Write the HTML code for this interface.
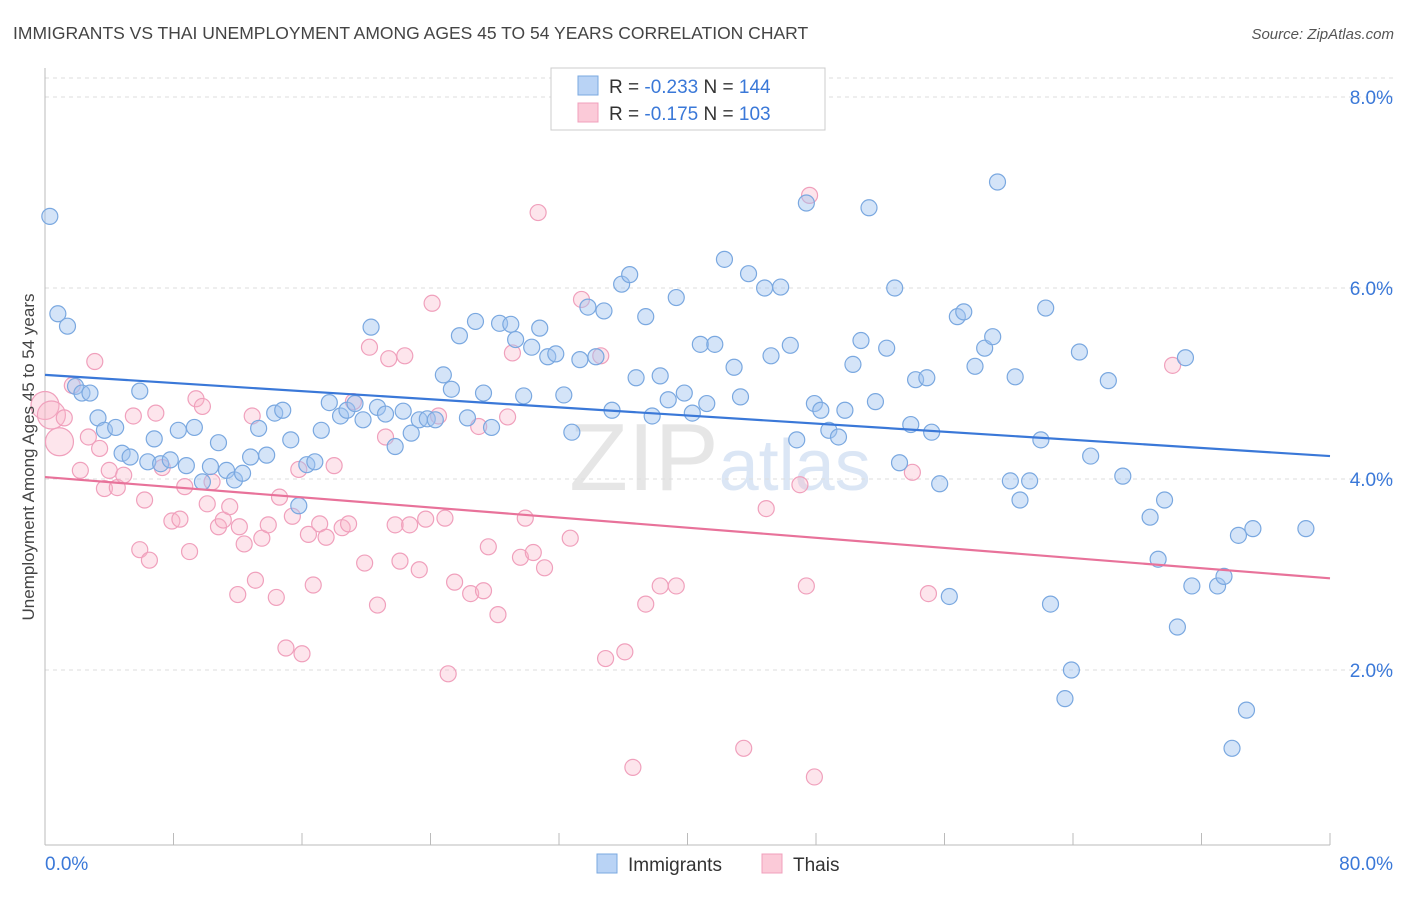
<!DOCTYPE html>
<html><head><meta charset="utf-8"><style>
body{margin:0;background:#fff;font-family:"Liberation Sans",sans-serif}
svg text{font-family:"Liberation Sans",sans-serif}
</style></head><body>
<svg id="chart" width="1406" height="892" viewBox="0 0 1406 892" xmlns="http://www.w3.org/2000/svg">
<text x="13" y="39" font-size="17.5" fill="#444">IMMIGRANTS VS THAI UNEMPLOYMENT AMONG AGES 45 TO 54 YEARS CORRELATION CHART</text>
<text x="1394" y="39" font-size="15" fill="#555" text-anchor="end" font-style="italic">Source: ZipAtlas.com</text>
<text x="720" y="490" font-size="96" fill="#e6e6e6" text-anchor="middle" font-family="Liberation Serif">ZIP<tspan fill="#dbe6f5" font-family="Liberation Sans" font-size="72">atlas</tspan></text>
<g id="grid"></g>
<g id="axes"></g>
<g id="pts"></g>
<g id="trend"></g>
<text transform="translate(34,457) rotate(-90)" font-size="17" fill="#444" text-anchor="middle">Unemployment Among Ages 45 to 54 years</text>
<g>
<rect x="551" y="68" width="274" height="62" fill="#fff" stroke="#ccc"/>
<rect x="578" y="76" width="20" height="19" fill="#b9d3f5" stroke="#7aa8e0"/>
<text x="609" y="93" font-size="19" fill="#333">R = <tspan fill="#3a78d8">-0.233</tspan>   N = <tspan fill="#3a78d8">144</tspan></text>
<rect x="578" y="103" width="20" height="19" fill="#fbcad8" stroke="#f0a0bc"/>
<text x="609" y="120" font-size="19" fill="#333">R =  <tspan fill="#3a78d8">-0.175</tspan>   N = <tspan fill="#3a78d8">103</tspan></text>
</g>
<g>
<rect x="597" y="854" width="20" height="19" fill="#b9d3f5" stroke="#7aa8e0"/>
<text x="628" y="871" font-size="19" fill="#333">Immigrants</text>
<rect x="762" y="854" width="20" height="19" fill="#fbcad8" stroke="#f0a0bc"/>
<text x="793" y="871" font-size="19" fill="#333">Thais</text>
</g>
</svg>
<script>
const yTicks=[2,4,6,8];
const yTickLabels=["2.0%","4.0%","6.0%","8.0%"];
const xTickCount=10;
const xEndLabels=["0.0%","80.0%"];
const blueX=[0.3,0.8,1.4,1.9,2.3,2.8,3.3,3.7,4.4,4.8,5.3,5.9,6.4,6.8,7.2,7.8,8.3,8.8,9.3,9.8,10.3,10.8,11.3,11.8,12.3,12.8,13.3,13.8,14.3,14.8,15.3,15.8,16.3,16.8,17.2,17.7,18.4,18.8,19.3,19.8,20.3,20.7,21.2,21.8,22.3,22.8,23.3,23.8,24.3,24.8,25.3,25.8,26.3,26.8,27.3,27.8,28.3,29.0,29.3,29.8,30.3,30.8,31.3,31.8,32.3,32.8,33.3,33.8,34.3,34.8,35.3,35.9,36.4,36.8,37.4,37.8,38.3,38.8,39.3,39.8,40.3,40.8,41.2,41.7,42.3,42.9,43.3,43.8,44.8,45.2,45.8,46.4,46.8,47.4,47.9,48.3,48.8,49.4,49.8,50.3,50.8,51.3,51.7,52.4,52.9,53.2,53.9,54.2,54.9,55.2,55.7,56.3,56.8,57.2,57.9,58.5,59.0,59.3,60.1,60.4,60.7,61.3,62.0,62.3,62.6,63.5,63.9,64.4,65.1,66.2,67.1,68.8,69.3,69.7,70.5,71.0,71.4,73.0,73.4,73.9,74.3,74.8,75.2,78.5];
const blueY=[6.75,5.73,5.60,4.97,4.90,4.90,4.64,4.51,4.54,4.27,4.23,4.92,4.18,4.42,4.16,4.20,4.51,4.14,4.54,3.97,4.13,4.38,4.09,3.99,4.06,4.23,4.53,4.25,4.69,4.72,4.41,3.72,4.15,4.18,4.51,4.80,4.66,4.72,4.79,4.62,5.59,4.75,4.68,4.34,4.71,4.48,4.62,4.63,4.62,5.09,4.94,5.50,4.64,5.65,4.90,4.54,5.63,5.62,5.46,4.87,5.38,5.58,5.28,5.31,4.88,4.49,5.25,5.80,5.28,5.76,4.72,6.04,6.14,5.06,5.70,4.66,5.08,4.83,5.90,4.90,4.69,5.41,4.79,5.41,6.30,5.17,4.86,6.15,6.00,5.29,6.01,5.40,4.41,6.89,4.79,4.72,4.51,4.44,4.72,5.20,5.45,6.84,4.81,5.37,6.00,4.17,4.57,5.04,5.06,4.49,3.95,2.77,5.70,5.75,5.18,5.37,5.49,7.11,3.98,5.07,3.78,3.98,4.41,5.79,2.69,1.70,2.00,5.33,4.24,5.03,4.03,3.60,3.16,3.78,2.45,5.27,2.88,2.88,2.98,1.18,3.41,1.58,3.48,3.48];
const pinkX=[0.0,0.4,0.9,1.2,1.7,2.2,2.7,3.1,3.4,3.7,4.0,4.5,4.9,5.5,5.9,6.2,6.5,6.9,7.3,7.9,8.4,8.7,9.0,9.4,9.8,10.1,10.4,10.8,11.1,11.5,12.0,12.1,12.4,12.9,13.1,13.5,13.9,14.4,14.6,15.0,15.4,15.8,16.0,16.4,16.7,17.1,17.5,18.0,18.5,18.9,19.2,19.9,20.2,20.7,21.2,21.4,21.8,22.1,22.4,22.7,23.3,23.7,24.1,24.5,24.9,25.1,25.5,26.5,27.0,27.3,27.6,28.2,28.8,29.1,29.6,29.9,30.4,30.7,31.1,32.7,33.4,34.6,34.9,36.1,36.6,37.4,38.3,39.3,43.5,44.9,47.0,47.4,47.6,47.9,54.0,55.0,70.2];
const pinkY=[4.77,4.67,4.39,4.64,4.98,4.09,4.44,5.23,4.32,3.90,4.09,3.91,4.04,4.66,3.26,3.78,3.15,4.69,4.12,3.56,3.58,3.92,3.24,4.84,4.76,3.74,3.97,3.50,3.57,3.71,2.79,3.50,3.32,4.66,2.94,3.38,3.52,2.76,3.81,2.23,3.61,4.10,2.17,3.42,2.89,3.53,3.39,4.14,3.49,3.53,4.81,3.12,5.38,2.68,4.44,5.26,3.52,3.14,5.29,3.52,3.05,3.58,5.84,4.66,3.59,1.96,2.92,2.80,4.55,2.83,3.29,2.58,4.65,5.32,3.18,3.59,3.23,6.79,3.07,3.38,5.88,5.29,2.12,2.19,0.98,2.69,2.88,2.88,1.18,3.69,3.94,2.88,6.97,0.88,4.07,2.80,5.19];
const blueTrend=[5.09,4.24];
const pinkTrend=[4.02,2.96];
const NS='http://www.w3.org/2000/svg';
function xs(v){return 45+v/80*1285;}
function ys(v){return 861-v*95.5;}
function mk(tag,attrs,parent){const e=document.createElementNS(NS,tag);for(const k in attrs)e.setAttribute(k,attrs[k]);parent.appendChild(e);return e;}
const grid=document.getElementById('grid'),axes=document.getElementById('axes'),pts=document.getElementById('pts'),trend=document.getElementById('trend');
let g=mk('line',{x1:45,x2:1393,y1:78,y2:78,stroke:'#ddd','stroke-dasharray':'4,4'},grid);


yTicks.forEach((t,i)=>{
 const l=mk('line',{x1:45,x2:1393,y1:ys(t),y2:ys(t),stroke:'#ddd','stroke-dasharray':'4,4'},grid);
 
 
 const tx=mk('text',{x:1393,y:ys(t)+7,'font-size':19,fill:'#3a78d8','text-anchor':'end'},axes);
 tx.textContent=yTickLabels[i];
 
 
});
let ax=mk('line',{x1:45,x2:1330,y1:845,y2:845,stroke:'#bbb'},axes);


let ay=mk('line',{x1:45,x2:45,y1:68,y2:845,stroke:'#bbb'},axes);


for(let i=0;i<=xTickCount;i++){
 const v=i*80/xTickCount;
 const t=mk('line',{x1:xs(v),x2:xs(v),y1:833,y2:845,stroke:'#bbb'},axes);
 
 
}
[[0,'start',45],[80,'end',1393]].forEach((a,i)=>{
 const tx=mk('text',{x:a[2],y:870,'font-size':19,fill:'#3a78d8','text-anchor':a[1]},axes);
 tx.textContent=xEndLabels[i];
 
 
});
pinkX.forEach((x,i)=>{
 const r=i<3?14:8;
 const c=mk('circle',{cx:xs(x),cy:ys(pinkY[i]),r:r,fill:'rgba(248,180,200,0.35)',stroke:'#f0a0bc','stroke-width':1.2},pts);
 
 
});
blueX.forEach((x,i)=>{
 const c=mk('circle',{cx:xs(x),cy:ys(blueY[i]),r:8,fill:'rgba(160,196,240,0.45)',stroke:'#7aa8e0','stroke-width':1.2},pts);
 
 
});
let tb=mk('line',{x1:xs(0),x2:xs(80),y1:ys(blueTrend[0]),y2:ys(blueTrend[1]),stroke:'#3a78d8','stroke-width':2.2},trend);


let tp=mk('line',{x1:xs(0),x2:xs(80),y1:ys(pinkTrend[0]),y2:ys(pinkTrend[1]),stroke:'#e8729a','stroke-width':2.2},trend);


</script>
</body></html>
